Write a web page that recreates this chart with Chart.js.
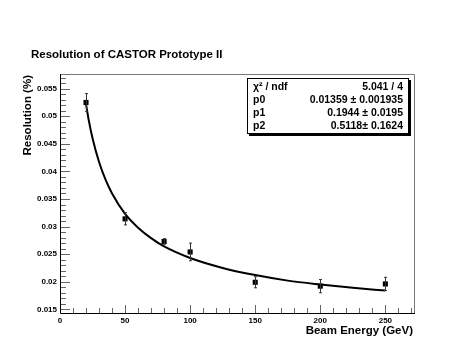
<!DOCTYPE html>
<html>
<head>
<meta charset="utf-8">
<script src="https://cdn.jsdelivr.net/npm/chart.js@4"></script>
<style>
  html, body { margin: 0; padding: 0; background: #ffffff; }
  #wrap { width: 458px; height: 344px; position: relative; }
</style>
</head>
<body>
<div id="wrap"><canvas id="resChart" width="458" height="344"></canvas></div>
<script>
// measured points
const energy = [20, 50, 80, 100, 150, 200, 250];
const resolution = [0.0525, 0.0314, 0.0273, 0.0254, 0.0199, 0.0192, 0.0196];
const resError = [0.0016, 0.0011, 0.0005, 0.0016, 0.0010, 0.0012, 0.0012];

// fit curve
const fitEnergy = [20, 22, 25, 30, 35, 40, 50, 60, 70, 80, 100, 125, 150, 175, 200, 225, 250];
const fitValue = [0.0522, 0.0494, 0.0460, 0.0417, 0.0385, 0.0360, 0.0323, 0.0298, 0.0279, 0.0264,
                  0.0243, 0.0225, 0.0212, 0.0202, 0.0195, 0.0189, 0.0184];

// axis ticks
const xTicks = [0, 50, 100, 150, 200, 250];
const yTicks = [0.015, 0.02, 0.025, 0.03, 0.035, 0.04, 0.045, 0.05, 0.055];

// stats box
const statLabels = ["\u03C7\u00B2 / ndf", "p0", "p1", "p2"];
const statValues = ["5.041 / 4", "0.01359 \u00B1 0.001935", "0.1944 \u00B1 0.0195", "0.5118\u00B1 0.1624"];

const FONT = "'Liberation Sans', Arial, Helvetica, sans-serif";

// ------------------- Plugins -------------------

// error bars + ROOT style frame and inward ticks
const rootFrame = {
  id: "rootFrame",
  afterDatasetsDraw(chart) {
    const ctx = chart.ctx;
    const xs = chart.scales.x, ys = chart.scales.y;
    const a = chart.chartArea;
    ctx.save();

    // error bars
    ctx.strokeStyle = "#333";
    ctx.lineWidth = 1;
    energy.forEach((e, i) => {
      const px = Math.round(xs.getPixelForValue(e)) + 0.5;
      const top = ys.getPixelForValue(resolution[i] + resError[i]);
      const bot = ys.getPixelForValue(resolution[i] - resError[i]);
      ctx.beginPath();
      ctx.moveTo(px, top); ctx.lineTo(px, bot);
      ctx.moveTo(px - 1.5, top); ctx.lineTo(px + 1.5, top);
      ctx.moveTo(px - 1.5, bot); ctx.lineTo(px + 1.5, bot);
      ctx.stroke();
    });

    // frame top/right
    ctx.strokeStyle = "#777";
    ctx.beginPath();
    ctx.moveTo(a.left, a.top + 0.5); ctx.lineTo(a.right + 0.5, a.top + 0.5);
    ctx.lineTo(a.right + 0.5, a.bottom);
    ctx.stroke();

    // ticks
    ctx.strokeStyle = "#666";
    ctx.beginPath();
    for (let v = 0; v <= xs.max; v += 10) {
      const px = Math.round(xs.getPixelForValue(v)) + 0.5;
      const len = v % 50 === 0 ? 8 : 5;
      ctx.moveTo(px, a.bottom); ctx.lineTo(px, a.bottom - len);
    }
    for (let k = 15; k <= 57; k++) {
      const v = k / 1000;
      if (v < ys.min || v > ys.max) continue;
      const py = Math.round(ys.getPixelForValue(v)) + 0.5;
      const len = k % 5 === 0 ? 10 : 6;
      ctx.moveTo(a.left, py); ctx.lineTo(a.left + len, py);
    }
    ctx.stroke();

    // left / bottom axis lines
    ctx.strokeStyle = "#000";
    ctx.beginPath();
    ctx.moveTo(a.left + 0.5, a.top); ctx.lineTo(a.left + 0.5, a.bottom + 0.5);
    ctx.lineTo(a.right + 1, a.bottom + 0.5);
    ctx.stroke();
    ctx.restore();
  },
  afterDraw(chart) {
    const ctx = chart.ctx;
    ctx.save();
    ctx.fillStyle = "#000";

    // title
    ctx.font = "bold 11.5px " + FONT;
    ctx.textAlign = "left";
    ctx.textBaseline = "middle";
    ctx.fillText("Resolution of CASTOR Prototype II", 31, 55);

    // x title
    ctx.textAlign = "right";
    ctx.fillText("Beam Energy (GeV)", 413, 331);

    // y title
    ctx.save();
    ctx.translate(28, 75);
    ctx.rotate(-Math.PI / 2);
    ctx.textAlign = "right";
    ctx.fillText("Resolution (%)", 0, 0);
    ctx.restore();

    // stats box with shadow
    const bx = 247, by = 78, bw = 162, bh = 56;
    ctx.fillStyle = "#000";
    ctx.fillRect(bx + 2, by + 2, bw, bh);
    ctx.fillStyle = "#fff";
    ctx.fillRect(bx, by, bw, bh);
    ctx.strokeStyle = "#000";
    ctx.lineWidth = 1;
    ctx.strokeRect(bx + 0.5, by + 0.5, bw - 1, bh - 1);

    ctx.fillStyle = "#000";
    ctx.font = "bold 10.5px " + FONT;
    ctx.textBaseline = "middle";
    statLabels.forEach((lab, i) => {
      const y = 87 + i * 13;
      ctx.textAlign = "left";
      ctx.fillText(lab, 253, y);
      ctx.textAlign = "right";
      ctx.fillText(statValues[i], 403, y);
    });
    ctx.restore();
  }
};

// ------------------- Chart -------------------

new Chart(document.getElementById("resChart"), {
  type: "scatter",
  data: {
    datasets: [
      {
        label: "fit",
        data: fitEnergy.map((e, i) => ({ x: e, y: fitValue[i] })),
        showLine: true,
        borderColor: "#000",
        borderWidth: 2,
        pointRadius: 0,
        cubicInterpolationMode: "monotone",
        fill: false,
      },
      {
        label: "data",
        data: energy.map((e, i) => ({ x: e, y: resolution[i] })),
        pointStyle: "rect",
        pointRadius: 3.6,
        backgroundColor: "#000",
        borderColor: "#000",
        borderWidth: 0,
      },
    ],
  },
  options: {
    responsive: false,
    animation: false,
    layout: { padding: { top: 74, left: 0, right: 44, bottom: 17 } },
    plugins: {
      legend: { display: false },
      tooltip: { enabled: false },
    },
    scales: {
      x: {
        type: "linear",
        min: 0,
        max: 272,
        afterFit: (s) => { s.height = 14; },
        afterBuildTicks: (s) => { s.ticks = xTicks.map((v) => ({ value: v })); },
        grid: { display: false, drawTicks: false },
        border: { display: false },
        ticks: {
          padding: 3,
          color: "#000",
          autoSkip: false,
          font: { family: FONT, size: 8, weight: "bold" },
          maxRotation: 0,
        },
      },
      y: {
        type: "linear",
        min: 0.01433,
        max: 0.05766,
        afterFit: (s) => { s.width = 60; },
        afterBuildTicks: (s) => { s.ticks = yTicks.map((v) => ({ value: v })); },
        grid: { display: false, drawTicks: false },
        border: { display: false },
        ticks: {
          padding: 3,
          color: "#000",
          font: { family: FONT, size: 8, weight: "bold" },
          callback: (v) => String(+v.toFixed(3)),
        },
      },
    },
  },
  plugins: [rootFrame],
});
</script>
</body>
</html>
